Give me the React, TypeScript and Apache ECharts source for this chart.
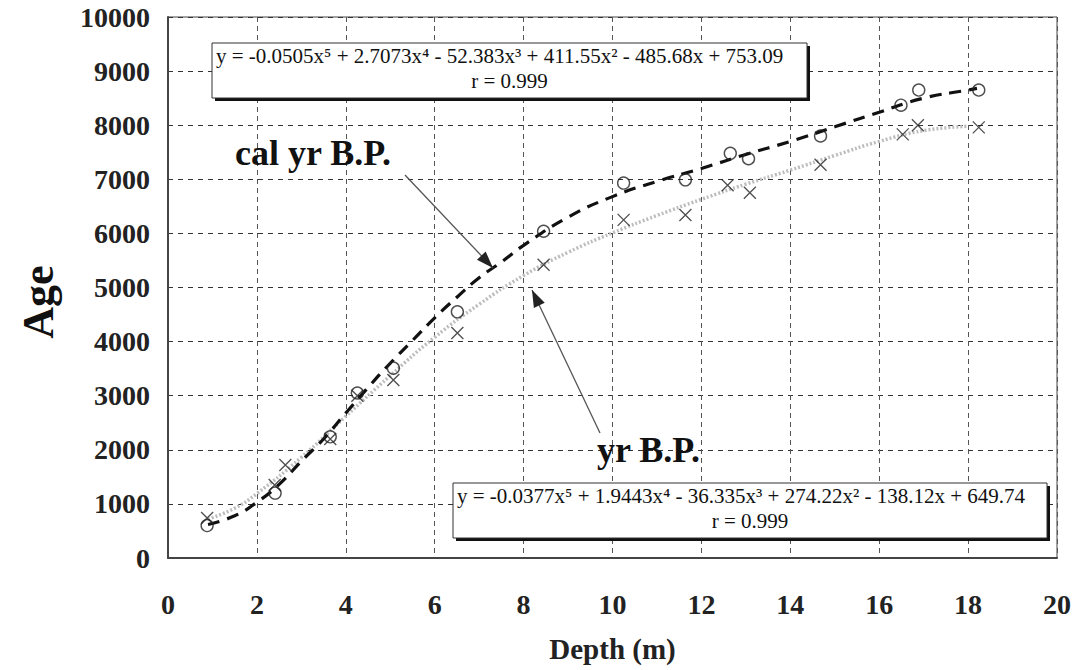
import React, { useEffect, useRef } from "react";
import * as echarts from "echarts";

// Measured samples: cal yr B.P. (circles)
const calDepth = [0.88, 2.41, 3.65, 4.26, 5.07, 6.51, 8.45, 10.25, 11.64, 12.65, 13.06, 14.68, 16.49, 16.89, 18.24];
const calAge = [600, 1200, 2240, 3050, 3510, 4550, 6040, 6930, 6990, 7480, 7380, 7800, 8370, 8650, 8650];

// Measured samples: yr B.P. (crosses)
const yrDepth = [0.88, 2.4, 2.64, 3.65, 4.26, 5.07, 6.51, 8.45, 10.25, 11.64, 12.59, 13.09, 14.68, 16.53, 16.87, 18.24];
const yrAge = [740, 1350, 1720, 2200, 3000, 3290, 4160, 5420, 6250, 6340, 6890, 6750, 7270, 7830, 8000, 7960];

// Fitted curves
const calFitDepth = [0.9, 1.5, 2, 2.5, 3, 3.5, 4, 4.5, 5, 5.5, 6, 6.5, 7, 7.5, 8, 9, 10, 11, 12, 13, 14, 15, 16, 17, 18, 18.2];
const calFitAge = [620, 780, 1030, 1360, 1790, 2200, 2680, 3150, 3600, 4020, 4440, 4820, 5180, 5470, 5780, 6300, 6680, 6960, 7200, 7460, 7700, 7970, 8240, 8500, 8650, 8680];

const yrFitDepth = [0.9, 1.5, 2, 3, 4, 5, 6, 7, 8, 9, 10, 11, 12, 13, 14, 15, 16, 17, 18];
const yrFitAge = [720, 920, 1190, 1860, 2620, 3370, 4080, 4690, 5220, 5650, 6010, 6330, 6630, 6910, 7170, 7440, 7700, 7900, 7980];

const xTicks = { min: 0, max: 20, interval: 2 };
const yTicks = { min: 0, max: 10000, interval: 1000 };

const eq1 = "y = -0.0505x\u2075 + 2.7073x\u2074 - 52.383x\u00b3 + 411.55x\u00b2 - 485.68x + 753.09";
const eq2 = "y = -0.0377x\u2075 + 1.9443x\u2074 - 36.335x\u00b3 + 274.22x\u00b2 - 138.12x + 649.74";
const rText = "r = 0.999";

const SERIF = "'Liberation Serif', 'Times New Roman', 'DejaVu Serif', serif";

function zip(a: number[], b: number[]) {
  return a.map((v, i) => [v, b[i]]);
}

function arrowHead(tip: [number, number], from: [number, number], len: number, half: number) {
  const dx = tip[0] - from[0];
  const dy = tip[1] - from[1];
  const l = Math.sqrt(dx * dx + dy * dy);
  const ux = dx / l, uy = dy / l;
  const bx = tip[0] - ux * len, by = tip[1] - uy * len;
  const px = -uy * half, py = ux * half;
  return [tip, [bx + px, by + py], [bx - px, by - py]];
}

function eqBox(x: number, y: number, w: number, h: number, eq: string) {
  return [
    { type: "rect", shape: { x: x + 3, y: y + 3, width: w, height: h }, style: { fill: "#111" }, z: 10 },
    { type: "rect", shape: { x, y, width: w, height: h }, style: { fill: "#fff", stroke: "#333", lineWidth: 1 }, z: 11 },
    {
      type: "text", x: x + 4, y: y + 13, z: 12,
      style: { text: eq, font: `21px ${SERIF}`, fill: "#111", verticalAlign: "middle", align: "left" },
    },
    {
      type: "text", x: x + w / 2, y: y + 38, z: 12,
      style: { text: rText, font: `21px ${SERIF}`, fill: "#111", verticalAlign: "middle", align: "center" },
    },
  ];
}

export default function App() {
  const ref = useRef<HTMLDivElement>(null);

  useEffect(() => {
    document.body.style.margin = "0";
    if (!ref.current) return;
    const chart = echarts.init(ref.current, null, { renderer: "svg" });

    const calArrowFrom: [number, number] = [405, 175];
    const calArrowTip: [number, number] = [493, 268];
    const yrArrowFrom: [number, number] = [600, 433];
    const yrArrowTip: [number, number] = [532, 290];

    const option: any = {
      animation: false,
      backgroundColor: "#fff",
      grid: {
        left: 168, right: 24, top: 17, bottom: 112,
        show: true, borderColor: "#444", borderWidth: 1, backgroundColor: "transparent",
      },
      xAxis: {
        type: "value",
        min: xTicks.min, max: xTicks.max, interval: xTicks.interval,
        axisLine: { show: true, onZero: false, lineStyle: { color: "#444", width: 2 } },
        axisTick: { show: false },
        axisLabel: { color: "#222", fontFamily: SERIF, fontWeight: "bold", fontSize: 28, margin: 32 },
        splitLine: { show: true, lineStyle: { color: "#555", type: [5, 4], width: 1 } },
        name: "Depth (m)",
        nameLocation: "middle",
        nameGap: 76,
        nameTextStyle: { color: "#222", fontFamily: SERIF, fontWeight: "bold", fontSize: 29 },
      },
      yAxis: {
        type: "value",
        min: yTicks.min, max: yTicks.max, interval: yTicks.interval,
        axisLine: { show: true, onZero: false, lineStyle: { color: "#444", width: 2 } },
        axisTick: { show: false },
        axisLabel: {
          color: "#222", fontFamily: SERIF, fontWeight: "bold", fontSize: 28, margin: 18,
          formatter: (v: number) => String(v),
        },
        splitLine: { show: true, lineStyle: { color: "#333", type: [5, 5], width: 1 } },
      },
      series: [
        {
          type: "line",
          data: zip(yrFitDepth, yrFitAge),
          smooth: true,
          showSymbol: false,
          lineStyle: { color: "#bdbdbd", width: 3.5, type: [2, 2] },
          z: 2,
        },
        {
          type: "line",
          data: zip(calFitDepth, calFitAge),
          smooth: true,
          showSymbol: false,
          lineStyle: { color: "#111", width: 3.2, type: [12, 8] },
          z: 3,
        },
        {
          type: "scatter",
          data: zip(calDepth, calAge),
          symbol: "circle",
          symbolSize: 12,
          itemStyle: { color: "rgba(0,0,0,0)", borderColor: "#222", borderWidth: 1.4 },
          z: 4,
        },
        {
          type: "scatter",
          data: zip(yrDepth, yrAge),
          symbol: "path://M0,0L10,10M10,0L0,10",
          symbolSize: 12,
          itemStyle: { color: "none", borderColor: "#222", borderWidth: 1.3 },
          z: 4,
        },
      ],
      graphic: [
        ...eqBox(212, 43, 595, 55, eq1),
        ...eqBox(453, 483, 594, 55, eq2),
        {
          type: "text", x: 235, y: 153, z: 12,
          style: { text: "cal yr B.P.", font: `bold 36px ${SERIF}`, fill: "#111", verticalAlign: "middle", align: "left" },
        },
        {
          type: "text", x: 597, y: 450, z: 12,
          style: { text: "yr B.P.", font: `bold 36px ${SERIF}`, fill: "#111", verticalAlign: "middle", align: "left" },
        },
        {
          type: "text", x: 38, y: 302, rotation: Math.PI / 2, z: 12,
          style: { text: "Age", font: `bold 44px ${SERIF}`, fill: "#111", verticalAlign: "middle", align: "center" },
        },
        {
          type: "line", z: 12,
          shape: { x1: calArrowFrom[0], y1: calArrowFrom[1], x2: calArrowTip[0], y2: calArrowTip[1] },
          style: { stroke: "#555", lineWidth: 1.3 },
        },
        {
          type: "polygon", z: 12,
          shape: { points: arrowHead(calArrowTip, calArrowFrom, 17, 6) },
          style: { fill: "#222" },
        },
        {
          type: "line", z: 12,
          shape: { x1: yrArrowFrom[0], y1: yrArrowFrom[1], x2: yrArrowTip[0], y2: yrArrowTip[1] },
          style: { stroke: "#555", lineWidth: 1.3 },
        },
        {
          type: "polygon", z: 12,
          shape: { points: arrowHead(yrArrowTip, yrArrowFrom, 17, 6) },
          style: { fill: "#222" },
        },
      ],
    };

    chart.setOption(option);
    return () => chart.dispose();
  }, []);

  return <div ref={ref} style={{ width: 1081, height: 670 }} />;
}
